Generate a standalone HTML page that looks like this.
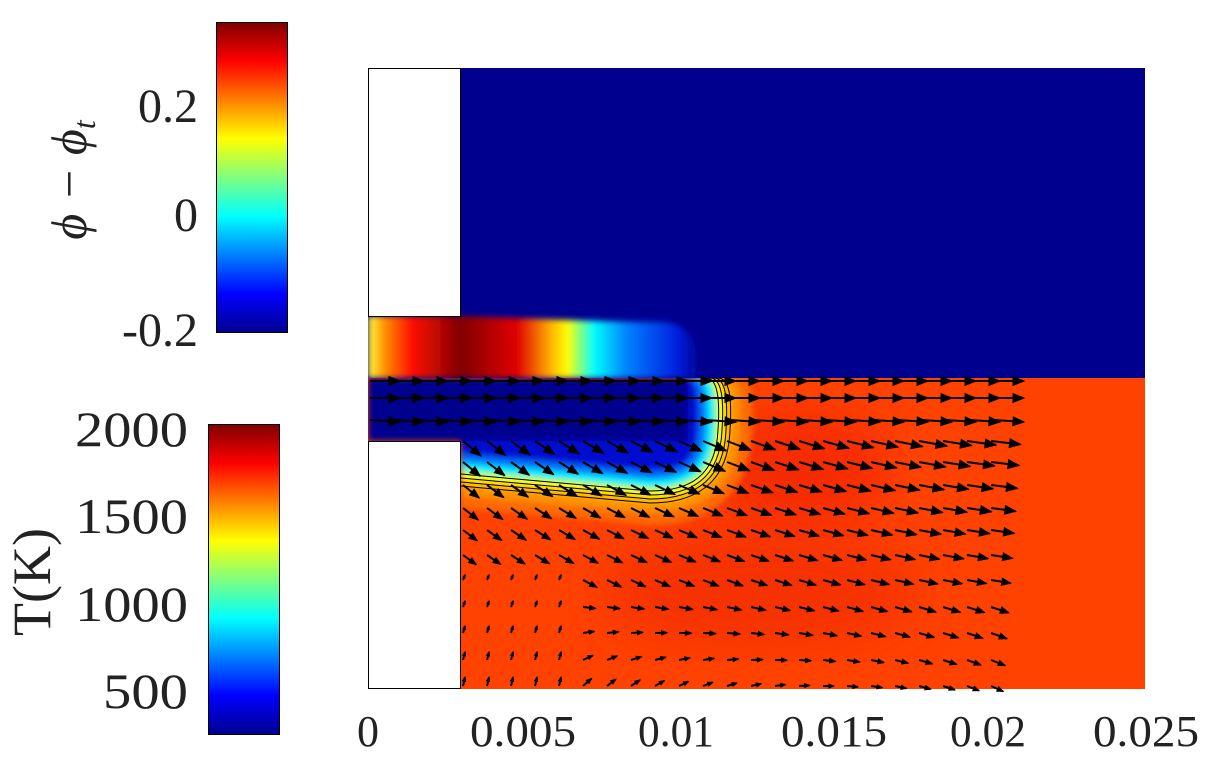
<!DOCTYPE html>
<html><head><meta charset="utf-8"><style>
html,body{margin:0;padding:0;background:#fff;}
svg{display:block;}
text{font-family:"Liberation Serif",serif;fill:#222;}
</style></head><body>
<svg id="s" width="1218" height="758" viewBox="0 0 1218 758">
<defs>
<linearGradient id="jetv" x1="0" y1="1" x2="0" y2="0">
<stop offset="0" stop-color="#00008f"/><stop offset="0.125" stop-color="#0000ff"/>
<stop offset="0.375" stop-color="#00ffff"/><stop offset="0.625" stop-color="#ffff00"/>
<stop offset="0.875" stop-color="#ff0000"/><stop offset="1" stop-color="#800000"/>
</linearGradient>
<linearGradient id="plume" x1="368" y1="0" x2="700" y2="0" gradientUnits="userSpaceOnUse">
<stop offset="0" stop-color="#ffff40"/><stop offset="0.05" stop-color="#ff9000"/>
<stop offset="0.13" stop-color="#ff1000"/><stop offset="0.28" stop-color="#800000"/>
<stop offset="0.45" stop-color="#e00000"/><stop offset="0.55" stop-color="#ffb000"/>
<stop offset="0.6" stop-color="#ffff00"/><stop offset="0.68" stop-color="#00ffff"/>
<stop offset="0.78" stop-color="#0080ff"/><stop offset="0.93" stop-color="#0020e0"/>
<stop offset="1" stop-color="#00008f"/>
</linearGradient>
<filter id="bl" x="-10%" y="-10%" width="120%" height="120%"><feGaussianBlur stdDeviation="3"/></filter>
<filter id="bl2"><feGaussianBlur stdDeviation="25"/></filter>
<clipPath id="low"><rect x="368" y="378" width="777" height="311"/></clipPath>
<clipPath id="up"><rect x="368" y="68" width="777" height="310"/></clipPath>
</defs>
<rect x="368" y="68" width="777" height="310" fill="#00008f"/>
<g clip-path="url(#up)">
<path d="M368,316 L461,316 C520,318 600,322 660,322 C690,322 700,345 700,378 L368,378 Z" fill="url(#plume)" filter="url(#bl)"/>
</g>
<rect x="368.5" y="68.5" width="92" height="248" fill="#fff" stroke="#000"/>
<rect x="368" y="378" width="777" height="311" fill="#ff4200"/>
<g clip-path="url(#low)">
<ellipse cx="760" cy="590" rx="160" ry="60" fill="#f53000" filter="url(#bl2)"/>
<ellipse cx="800" cy="470" rx="90" ry="60" fill="#f52a00" filter="url(#bl2)"/>
<g id="layers" filter="url(#bl)"></g>
<g id="cont" fill="none" stroke="#000" stroke-width="1"></g>
</g>
<rect x="368.5" y="441.5" width="92" height="247" fill="#fff" stroke="#000"/>
<g id="arr" stroke="#000" fill="#000"></g>
<rect x="216.5" y="22.5" width="71" height="310" fill="url(#jetv)" stroke="#000"/>
<g font-size="48" text-anchor="end">
<text x="198" y="122">0.2</text>
<text x="198" y="231">0</text>
<text x="198" y="346">-0.2</text>
</g>
<text transform="translate(86,180) rotate(-90)" font-size="50" text-anchor="middle" font-style="italic">ϕ − ϕ<tspan font-size="32" dy="9">t</tspan></text>
<rect x="208.5" y="424.5" width="71" height="310" fill="url(#jetv)" stroke="#000"/>
<g font-size="50" text-anchor="end">
<text x="188" y="446" textLength="113" lengthAdjust="spacingAndGlyphs">2000</text>
<text x="188" y="533" textLength="113" lengthAdjust="spacingAndGlyphs">1500</text>
<text x="188" y="621" textLength="113" lengthAdjust="spacingAndGlyphs">1000</text>
<text x="188" y="708" textLength="85" lengthAdjust="spacingAndGlyphs">500</text>
</g>
<text transform="translate(50,582) rotate(-90)" font-size="54" text-anchor="middle">T(K)</text>
<g font-size="44" text-anchor="middle">
<text x="368" y="746">0</text>
<text x="523" y="746" textLength="106" lengthAdjust="spacingAndGlyphs">0.005</text>
<text x="676" y="746" textLength="76" lengthAdjust="spacingAndGlyphs">0.01</text>
<text x="834" y="746" textLength="106" lengthAdjust="spacingAndGlyphs">0.015</text>
<text x="988" y="746" textLength="76" lengthAdjust="spacingAndGlyphs">0.02</text>
<text x="1146" y="746" textLength="106" lengthAdjust="spacingAndGlyphs">0.025</text>
</g>
</svg>
<script>
var NS="http://www.w3.org/2000/svg";
function P(d){return "M368,378 L"+(700+d)+",378 C"+(712+d)+",378 "+(714+d)+",400 "+(712+d)+",430 C"+(710+d)+","+(470+d)+" 690,"+(485+d)+" 650,"+(485+d)+" L461,"+(468+d)+" L461,441 L368,441 Z";}
var L=[[40,"#ff6a00"],[28,"#ff9000"],[18,"#ffc000"],[11,"#ffff00"],[6,"#a0ff60"],[2,"#00e8ff"],[-6,"#0070ff"],[-14,"#0010d0"]];
var g=document.getElementById("layers");
L.forEach(function(l){var p=document.createElementNS(NS,"path");p.setAttribute("d",P(l[0]));p.setAttribute("fill",l[1]);g.appendChild(p);});
var j=document.createElementNS(NS,"rect");j.setAttribute("x",368);j.setAttribute("y",378);j.setAttribute("width",320);j.setAttribute("height",63);j.setAttribute("fill","#00008f");g.appendChild(j);
var c=document.getElementById("cont");
[6,10,14,18].forEach(function(d){var p=document.createElementNS(NS,"path");p.setAttribute("d","M"+(700+d)+",378 C"+(712+d)+",378 "+(714+d)+",400 "+(712+d)+",430 C"+(710+d)+","+(470+d)+" 690,"+(485+d)+" 650,"+(485+d)+" L461,"+(468+d));c.appendChild(p);});
var a=document.getElementById("arr");
var rows=[381,398,420,441,462,485,508,530,555,580,607,633,660,686];
rows.forEach(function(y,ri){
 var x0=ri<3?370:463;
 for(var x=x0;x<=1000;x+=24){
  var dx,dy;
  if(ri<3){dx=30;dy=(ri==2?2:0);}
  else{
   var t=(x-461)/550, r=(y-441)/250;
   dx=30*(1-r*0.6)*(0.6+0.4*t); dy=12*(1-r)*(1-t)+ (r>0.6?(-8*(1-t)*(r-0.5)*3+ 6*t):3);
   if(x<560&&r>0.5){dx=2;dy=-9*(r);}
  }
  var len=Math.sqrt(dx*dx+dy*dy); if(len<1)continue;
  var ux=dx/len,uy=dy/len,h=Math.min(11,len*0.45);
  var ln=document.createElementNS(NS,"line");
  ln.setAttribute("x1",x);ln.setAttribute("y1",y);ln.setAttribute("x2",x+dx);ln.setAttribute("y2",y+dy);ln.setAttribute("stroke-width","2");a.appendChild(ln);
  var tip=[x+dx,y+dy],b=[x+dx-ux*h,y+dy-uy*h];
  var pg=document.createElementNS(NS,"polygon");
  pg.setAttribute("points",tip[0]+","+tip[1]+" "+(b[0]-uy*h*0.4)+","+(b[1]+ux*h*0.4)+" "+(b[0]+uy*h*0.4)+","+(b[1]-ux*h*0.4));a.appendChild(pg);
 }
});
</script>
</body></html>
